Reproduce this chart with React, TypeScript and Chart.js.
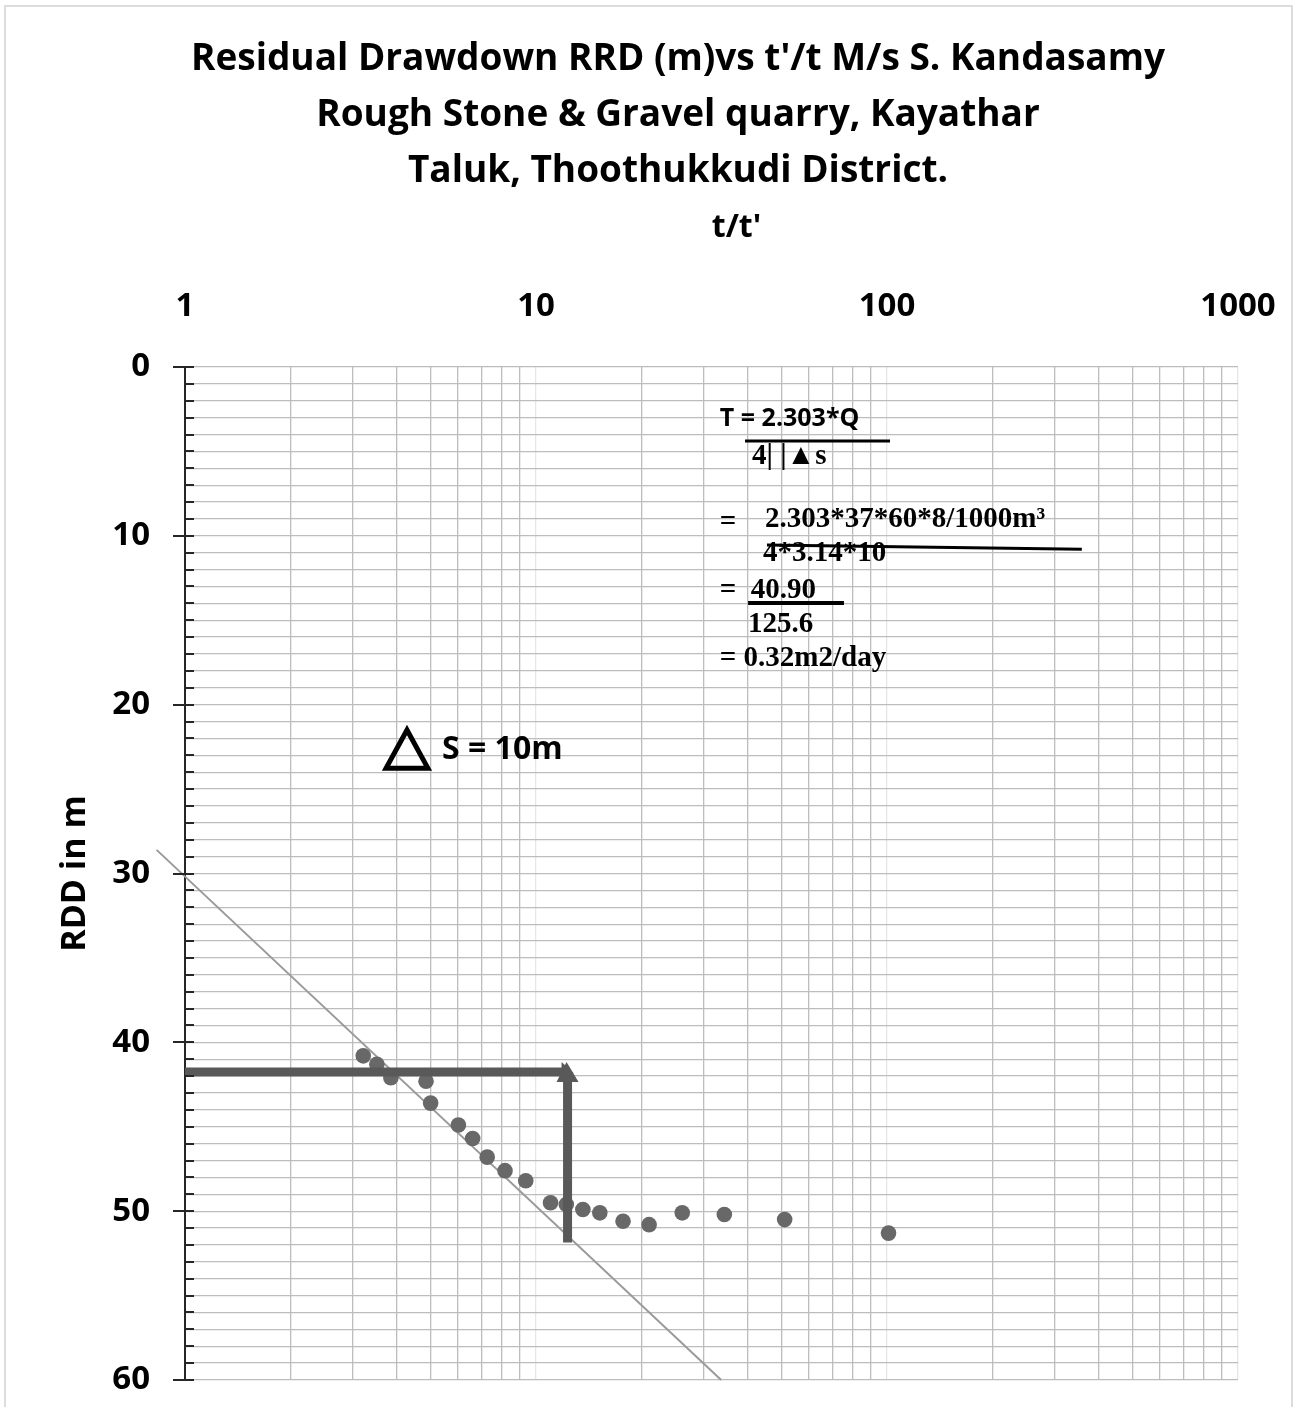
import { useEffect, useRef } from "react";
import { Chart, registerables } from "chart.js";

Chart.register(...registerables);

// ---- chart text ----
const TITLE_LINES = [
  "Residual Drawdown RRD (m)vs t'/t M/s S. Kandasamy",
  "Rough Stone & Gravel quarry, Kayathar",
  "Taluk, Thoothukkudi District.",
];
const X_AXIS_TITLE = "t/t'";
const Y_AXIS_TITLE = "RDD in m";

// ---- axes ----
const X_TICK_LABELS = [1, 10, 100, 1000];
const Y_TICK_LABELS = [0, 10, 20, 30, 40, 50, 60];

// ---- recovery readings: time ratio vs residual drawdown (m) ----
const TIME_RATIO = [3.22, 3.52, 3.86, 4.86, 5.01, 6.01, 6.6, 7.26, 8.16, 9.35, 11.0, 12.2, 13.6, 15.2, 17.7, 21.0, 26.1, 34.4, 51.1, 101];
const RESIDUAL_DD = [40.8, 41.3, 42.1, 42.3, 43.6, 44.9, 45.7, 46.8, 47.6, 48.2, 49.5, 49.6, 49.9, 50.1, 50.6, 50.8, 50.1, 50.2, 50.5, 51.3];

// ---- fitted straight line through the early recovery ----
const TREND_X = [0.83, 33.7];
const TREND_Y = [28.6, 60];

// ---- construction lines: drawdown read over one log cycle ----
const GUIDE_X = [1, 12.3];
const GUIDE_Y = [41.75, 51.85];

// ---- delta-s annotation ----
const DELTA_S_LABEL = "S = 10m";

const SANS = "'Open Sans', 'DejaVu Sans', sans-serif";
const SERIF = "'Liberation Serif', 'DejaVu Serif', serif";

// grid positions of the log axis: 1..9 of every decade
const X_GRID: number[] = [];
for (const d of [1, 10, 100]) for (let m = 1; m < 10; m++) X_GRID.push(d * m);
X_GRID.push(1000);
const Y_GRID: number[] = [];
for (let v = 0; v <= 60; v++) Y_GRID.push(v);

// transmissivity working, anchored in data coordinates
type Note = { text: string; x: number; y: number; font: string };
const FORMULA_NOTES: Note[] = [
  { text: "T = 2.303*Q", x: 33.4, y: 3.08, font: `bold 25px ${SANS}` },
  { text: "4| |▲s", x: 41.25, y: 5.3, font: `bold 29px ${SERIF}` },
  { text: "=", x: 33.4, y: 9.24, font: `bold 29px ${SERIF}` },
  { text: "2.303*37*60*8/1000m³", x: 44.9, y: 9.06, font: `bold 29px ${SERIF}` },
  { text: "4*3.14*10", x: 44.3, y: 11.02, font: `bold 29px ${SERIF}` },
  { text: "=  40.90", x: 33.4, y: 13.21, font: `bold 29px ${SERIF}` },
  { text: "125.6", x: 40.2, y: 15.23, font: `bold 29px ${SERIF}` },
  { text: "= 0.32m2/day", x: 33.4, y: 17.24, font: `bold 29px ${SERIF}` },
];
const FRACTION_BARS = [
  { x1: 39.4, y1: 4.38, x2: 102, y2: 4.38, w: 3 },
  { x1: 45.5, y1: 10.55, x2: 359, y2: 10.8, w: 3 },
  { x1: 40.2, y1: 13.98, x2: 75.4, y2: 13.98, w: 4 },
];
const TRIANGLE_X = [3.74, 4.29, 4.92];
const TRIANGLE_Y = [23.76, 21.5, 23.76];
const DELTA_LABEL_POS = { x: 5.4, y: 22.69 };

const annotationPlugin = {
  id: "rddAnnotations",
  afterDatasetsDraw(chart: any) {
    const { ctx, chartArea } = chart;
    const xs = chart.scales.x;
    const ys = chart.scales.y;
    const px = (v: number) => xs.getPixelForValue(v);
    const py = (v: number) => ys.getPixelForValue(v);
    ctx.save();

    // y axis tick marks: short inner ticks each metre, crossing ticks every 10 m
    ctx.strokeStyle = "#262626";
    ctx.lineWidth = 2;
    for (const v of Y_GRID) {
      const y = Math.round(py(v));
      const major = Y_TICK_LABELS.includes(v);
      ctx.beginPath();
      ctx.moveTo(chartArea.left - (major ? 12 : 0), y);
      ctx.lineTo(chartArea.left + 9, y);
      ctx.stroke();
    }

    // arrow heads at the corner of the construction lines
    const cx = px(GUIDE_X[1]);
    const cy = py(GUIDE_Y[0]);
    ctx.fillStyle = "#595959";
    ctx.beginPath();
    ctx.moveTo(cx - 6, cy - 10);
    ctx.lineTo(cx + 6, cy + 1);
    ctx.lineTo(cx - 6, cy + 10);
    ctx.closePath();
    ctx.fill();
    ctx.beginPath();
    ctx.moveTo(cx - 11, cy + 10);
    ctx.lineTo(cx - 1, cy - 10);
    ctx.lineTo(cx + 11, cy + 10);
    ctx.closePath();
    ctx.fill();

    // delta triangle and its label
    ctx.strokeStyle = "#000";
    ctx.lineWidth = 5;
    ctx.lineJoin = "miter";
    ctx.beginPath();
    TRIANGLE_X.forEach((v, i) => {
      const x = px(v);
      const y = py(TRIANGLE_Y[i]);
      if (i === 0) ctx.moveTo(x, y);
      else ctx.lineTo(x, y);
    });
    ctx.closePath();
    ctx.stroke();
    ctx.fillStyle = "#000";
    ctx.textBaseline = "middle";
    ctx.textAlign = "left";
    ctx.font = `bold 32px ${SANS}`;
    ctx.fillText(DELTA_S_LABEL, px(DELTA_LABEL_POS.x), py(DELTA_LABEL_POS.y));

    // transmissivity working
    for (const n of FORMULA_NOTES) {
      ctx.font = n.font;
      ctx.fillText(n.text, px(n.x), py(n.y));
    }
    ctx.strokeStyle = "#000";
    for (const b of FRACTION_BARS) {
      ctx.lineWidth = b.w;
      ctx.beginPath();
      ctx.moveTo(px(b.x1), py(b.y1));
      ctx.lineTo(px(b.x2), py(b.y2));
      ctx.stroke();
    }

    // top axis title
    ctx.font = `bold 32px ${SANS}`;
    ctx.textAlign = "center";
    ctx.fillText(X_AXIS_TITLE, (chartArea.left + chartArea.right) / 2 + 25, 228);
    ctx.restore();
  },
};

export default function App() {
  const canvasRef = useRef<HTMLCanvasElement | null>(null);

  useEffect(() => {
    const canvas = canvasRef.current;
    if (!canvas) return;
    const tickFont = { family: SANS, size: 33, weight: "bold" as const };

    const chart = new Chart(canvas, {
      type: "scatter",
      data: {
        datasets: [
          {
            label: "guide-h",
            data: GUIDE_X.map((x) => ({ x, y: GUIDE_Y[0] })),
            showLine: true,
            borderColor: "#595959",
            borderWidth: 9,
            borderCapStyle: "butt",
            pointRadius: 0,
          },
          {
            label: "guide-v",
            data: GUIDE_Y.map((y) => ({ x: GUIDE_X[1], y })),
            showLine: true,
            borderColor: "#595959",
            borderWidth: 9,
            borderCapStyle: "butt",
            pointRadius: 0,
          },
          {
            label: "RDD",
            data: TIME_RATIO.map((x, i) => ({ x, y: RESIDUAL_DD[i] })),
            backgroundColor: "#686868",
            borderWidth: 0,
            pointRadius: 7.8,
          },
          {
            label: "trend",
            data: TREND_X.map((x, i) => ({ x, y: TREND_Y[i] })),
            showLine: true,
            borderColor: "#9a9a9a",
            borderWidth: 2,
            pointRadius: 0,
            clip: false,
          },
        ],
      },
      options: {
        responsive: false,
        animation: false,
        layout: { padding: { left: 63, right: 0, top: 0, bottom: 0 } },
        plugins: {
          legend: { display: false },
          tooltip: { enabled: false },
          title: {
            display: true,
            text: TITLE_LINES,
            color: "#000",
            font: { family: SANS, size: 37, weight: "bold", lineHeight: 56 / 37 },
            padding: { top: 31, bottom: 0 },
          },
        },
        scales: {
          x: {
            type: "logarithmic",
            position: "top",
            min: 1,
            max: 1000,
            afterBuildTicks: (scale: any) => {
              scale.ticks = X_GRID.map((v) => ({ value: v, major: X_TICK_LABELS.includes(v) }));
            },
            afterFit: (scale: any) => {
              scale.height = 168;
              scale.paddingLeft = 0;
              scale.paddingRight = 55;
            },
            ticks: {
              autoSkip: false,
              maxRotation: 0,
              padding: 41,
              color: "#000",
              font: tickFont,
              callback: (v: any) => (X_TICK_LABELS.includes(Number(v)) ? String(v) : ""),
            },
            grid: {
              drawTicks: false,
              lineWidth: 1.3,
              color: (c: any) => (c.tick && X_TICK_LABELS.includes(c.tick.value) ? "#e6e6e6" : "#bdbdbd"),
            },
            border: { display: false },
          },
          y: {
            type: "linear",
            reverse: true,
            min: 0,
            max: 60,
            afterBuildTicks: (scale: any) => {
              scale.ticks = Y_GRID.map((v) => ({ value: v }));
            },
            afterFit: (scale: any) => {
              scale.width = 122;
              scale.paddingTop = 0;
              scale.paddingBottom = 27;
            },
            ticks: {
              autoSkip: false,
              padding: 35,
              color: "#000",
              font: tickFont,
              callback: (v: any) => (Y_TICK_LABELS.includes(Number(v)) ? String(v) : ""),
            },
            title: {
              display: true,
              text: Y_AXIS_TITLE,
              color: "#000",
              font: { family: SANS, size: 34, weight: "bold", lineHeight: 24 / 34 },
              padding: { top: 0, bottom: 0 },
            },
            grid: { drawTicks: false, lineWidth: 1.3, color: "#bdbdbd" },
            border: { display: true, color: "#262626", width: 2 },
          },
        },
      } as any,
      plugins: [annotationPlugin],
    });
    return () => chart.destroy();
  }, []);

  return (
    <div style={{ position: "absolute", left: 0, top: 0, width: 1293, height: 1407, background: "#fff" }}>
      <div
        style={{
          position: "absolute",
          left: 4,
          top: 5,
          width: 1289,
          height: 1410,
          border: "2px solid #dcdcdc",
          boxSizing: "border-box",
        }}
      />
      <canvas ref={canvasRef} width={1293} height={1407} style={{ position: "absolute", left: 0, top: 0, display: "block" }} />
    </div>
  );
}
